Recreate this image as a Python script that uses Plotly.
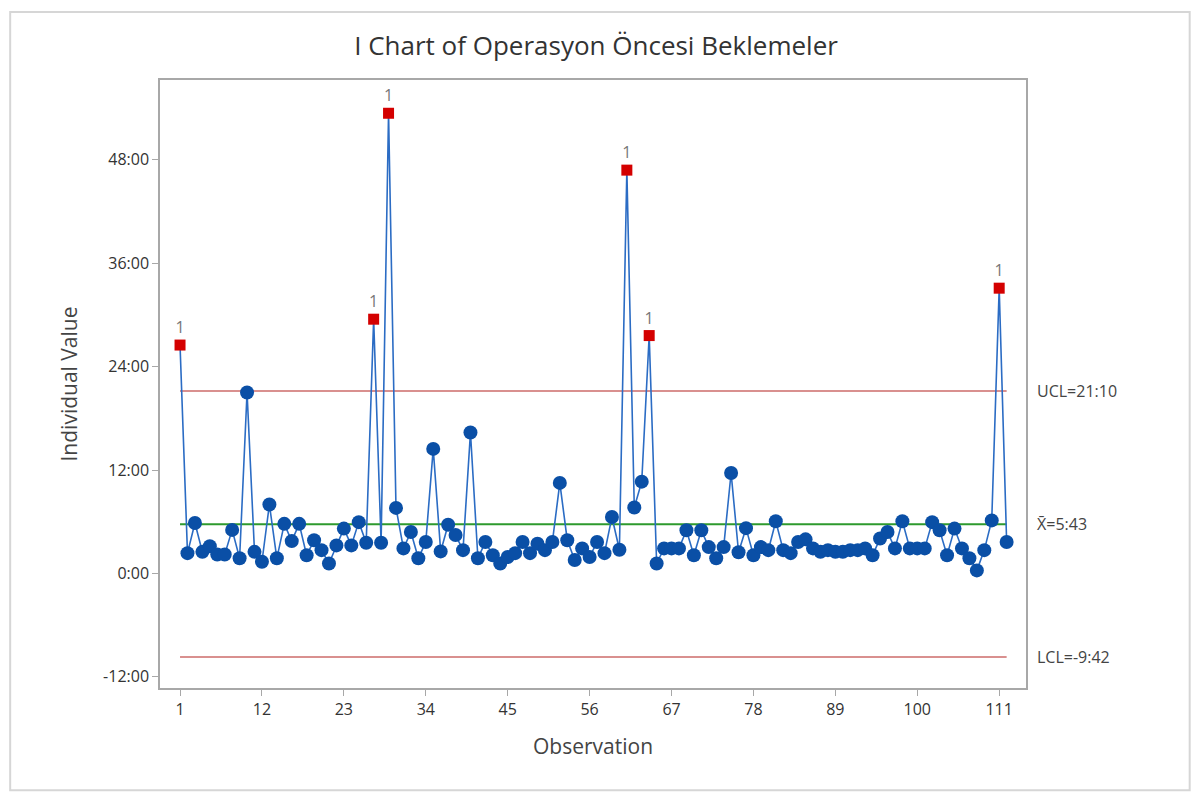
import plotly.graph_objects as go

# I chart data (wait times in minutes)
observations = list(range(1, 113))
wait_minutes = [
    26.5, 2.35, 5.85, 2.5, 3.15, 2.2, 2.2, 5.05, 1.75, 21.0,
    2.5, 1.35, 8.0, 1.75, 5.75, 3.75, 5.75, 2.1, 3.85, 2.7,
    1.15, 3.25, 5.2, 3.25, 5.95, 3.55, 29.5, 3.55, 53.4, 7.6,
    2.9, 4.8, 1.75, 3.65, 14.45, 2.55, 5.65, 4.45, 2.7, 16.35,
    1.75, 3.65, 2.1, 1.15, 1.9, 2.35, 3.65, 2.35, 3.45, 2.7,
    3.65, 10.5, 3.85, 1.55, 2.9, 1.9, 3.65, 2.35, 6.55, 2.75,
    46.8, 7.65, 10.65, 27.6, 1.15, 2.9, 2.9, 2.9, 5.0, 2.1,
    5.0, 3.05, 1.75, 3.05, 11.65, 2.45, 5.25, 2.1, 3.05, 2.7,
    6.05, 2.7, 2.35, 3.65, 3.95, 2.9, 2.5, 2.7, 2.5, 2.5,
    2.7, 2.7, 2.9, 2.1, 4.05, 4.8, 2.9, 6.05, 2.9, 2.9,
    2.9, 5.95, 5.0, 2.1, 5.2, 2.9, 1.75, 0.35, 2.7, 6.15,
    33.1, 3.65,
]

# control limits (minutes)
ucl = 21 + 10 / 60
center = 5 + 43 / 60
lcl = -(9 + 42 / 60)
limit_labels = ["UCL=21:10", "X\u0304=5:43", "LCL=-9:42"]

ytick_vals = [-12, 0, 12, 24, 36, 48]
ytick_text = ["-12:00", "0:00", "12:00", "24:00", "36:00", "48:00"]
xtick_vals = [1, 12, 23, 34, 45, 56, 67, 78, 89, 100, 111]

FONT = "Open Sans"
TXT = "#333333"

in_x = [o for o, v in zip(observations, wait_minutes) if v <= ucl]
in_y = [v for v in wait_minutes if v <= ucl]
out_x = [o for o, v in zip(observations, wait_minutes) if v > ucl]
out_y = [v for v in wait_minutes if v > ucl]

fig = go.Figure()

# limit lines
fig.add_trace(go.Scatter(x=[1, 112], y=[ucl, ucl], mode="lines",
                         line=dict(color="#d9908f", width=2), hoverinfo="skip"))
fig.add_trace(go.Scatter(x=[1, 112], y=[lcl, lcl], mode="lines",
                         line=dict(color="#d9908f", width=2), hoverinfo="skip"))
fig.add_trace(go.Scatter(x=[1, 112], y=[center, center], mode="lines",
                         line=dict(color="#2e9a2e", width=2), hoverinfo="skip"))

# connecting line
fig.add_trace(go.Scatter(x=observations, y=wait_minutes, mode="lines",
                         line=dict(color="#2b6cc4", width=1.6)))

# in control points
fig.add_trace(go.Scatter(x=in_x, y=in_y, mode="markers",
                         marker=dict(symbol="circle", size=14, color="#0a4fa6")))

# out of control points
fig.add_trace(go.Scatter(
    x=out_x, y=out_y, mode="markers+text",
    marker=dict(symbol="square", size=11, color="#d40000"),
    text=["1"] * len(out_x), textposition="top center",
    textfont=dict(family=FONT, size=16, color="#777777"),
))

# limit labels on the right
for val, lab in zip([ucl, center, lcl], limit_labels):
    fig.add_annotation(x=1.01, xref="paper", y=val, yref="y", text=lab,
                       showarrow=False, xanchor="left", yanchor="middle",
                       font=dict(family=FONT, size=16, color="#444444"))

# outer frame
fig.add_shape(type="rect", xref="paper", yref="paper",
              x0=-0.173, x1=1.189, y0=-0.168, y1=1.112,
              line=dict(color="#d6d6d6", width=2), layer="below")

fig.update_layout(
    width=1200, height=800,
    margin=dict(l=152, r=182, t=72, b=120),
    paper_bgcolor="white", plot_bgcolor="white",
    showlegend=False,
    font=dict(family=FONT, color=TXT),
    title=dict(text="I Chart of Operasyon Öncesi Beklemeler",
               x=0.49, xanchor="center", y=0.953, yref="container", yanchor="middle",
               font=dict(family=FONT, size=26, color="#333333")),
)
fig.update_xaxes(
    range=[-1.69, 114.6], tickvals=xtick_vals, showgrid=False, zeroline=False,
    showline=True, mirror=True, linecolor="#a8a8a8", linewidth=1.5,
    ticks="outside", ticklen=6, tickcolor="#a8a8a8",
    tickfont=dict(family=FONT, size=16, color=TXT),
    title=dict(text="Observation", font=dict(family=FONT, size=21, color="#444444"), standoff=20),
)
fig.update_yaxes(
    range=[-13.3, 57.26], tickvals=ytick_vals, ticktext=ytick_text,
    showgrid=False, zeroline=False,
    showline=True, mirror=True, linecolor="#a8a8a8", linewidth=1.5,
    ticks="outside", ticklen=6, tickcolor="#a8a8a8",
    tickfont=dict(family=FONT, size=16, color=TXT),
    title=dict(text="Individual Value", font=dict(family=FONT, size=21, color="#444444"), standoff=20),
)

fig.write_html("out.html")
